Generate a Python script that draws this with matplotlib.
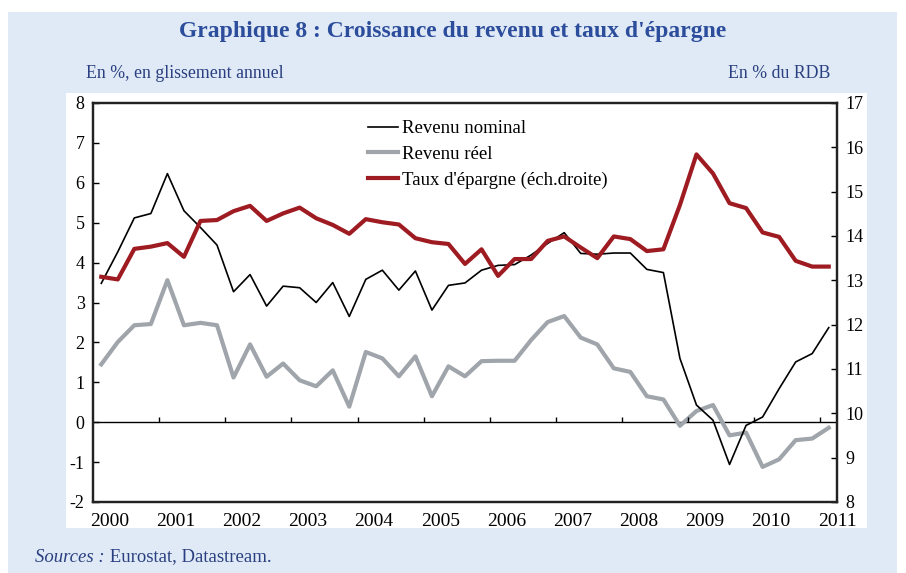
import matplotlib
matplotlib.use("Agg")
import matplotlib.pyplot as plt
from matplotlib.patches import Rectangle
import numpy as np

# quarterly data, 2000Q1 .. 2011Q1
years = [str(y) for y in range(2000, 2012)]

revenu_nominal = [3.48, 4.27, 5.12, 5.23, 6.23, 5.30, 4.88, 4.44,
                  3.27, 3.70, 2.91, 3.41, 3.37, 3.00, 3.50, 2.65,
                  3.58, 3.81, 3.31, 3.79, 2.81, 3.43, 3.49, 3.81,
                  3.93, 3.95, 4.19, 4.48, 4.75, 4.23, 4.21, 4.24,
                  4.24, 3.83, 3.75, 1.60, 0.43, 0.05, -1.06, -0.08,
                  0.13, 0.84, 1.51, 1.72, 2.37]

revenu_reel = [1.45, 2.01, 2.43, 2.46, 3.56, 2.43, 2.49, 2.43,
               1.12, 1.95, 1.14, 1.47, 1.05, 0.90, 1.30, 0.39,
               1.76, 1.60, 1.15, 1.65, 0.65, 1.40, 1.15, 1.53,
               1.54, 1.54, 2.06, 2.51, 2.66, 2.12, 1.95, 1.35,
               1.26, 0.65, 0.57, -0.09, 0.28, 0.43, -0.33, -0.26,
               -1.12, -0.93, -0.45, -0.41, -0.14]

taux_epargne = [13.08, 13.02, 13.71, 13.76, 13.84, 13.53, 14.34, 14.36,
                14.56, 14.68, 14.34, 14.51, 14.64, 14.40, 14.25, 14.05,
                14.38, 14.31, 14.26, 13.95, 13.86, 13.82, 13.37, 13.70,
                13.10, 13.48, 13.48, 13.89, 13.99, 13.74, 13.50, 13.99,
                13.93, 13.66, 13.70, 14.70, 15.84, 15.41, 14.74, 14.63,
                14.08, 13.98, 13.44, 13.31, 13.31]

plt.rcParams["font.family"] = ["Liberation Serif", "DejaVu Serif"]
plt.rcParams["axes.unicode_minus"] = False
blue_title = "#2c4c9c"
blue_text = "#2a3f80"
red = "#9e1b22"
grey = "#9fa5aa"

fig = plt.figure(figsize=(9.06, 5.73), dpi=100)
fig.patch.set_facecolor("white")
W, H = 906.0, 573.0
# light blue frame and white panel behind the chart
fig.add_artist(Rectangle((8 / W, 0), 889 / W, 561 / H, transform=fig.transFigure,
                         facecolor="#dfeaf6", edgecolor="none", zorder=-3))
fig.add_artist(Rectangle((66 / W, 45 / H), 801 / W, 435 / H, transform=fig.transFigure,
                         facecolor="white", edgecolor="none", zorder=-2))

ax = fig.add_axes([93 / W, 71 / H, 744 / W, 399 / H])
ax.set_facecolor("none")
ax2 = ax.twinx()

x = np.arange(len(revenu_nominal))
l1, = ax.plot(x, revenu_nominal, color="black", lw=1.2, label="Revenu nominal", zorder=3)
l2, = ax.plot(x, revenu_reel, color=grey, lw=3.0, label="Revenu réel", zorder=2)
l3, = ax2.plot(x, taux_epargne, color=red, lw=3.0, label="Taux d'épargne (éch.droite)")

ax.set_xlim(-0.5, len(x) - 0.5)
ax.set_ylim(-2, 8)
ax2.set_ylim(8, 17)
ax.set_yticks(range(-2, 9))
ax2.set_yticks(range(8, 18))

# zero line with year ticks
ax.axhline(0, color="black", lw=1.0, zorder=1)
ax.vlines(np.arange(3.5, len(x) - 1, 4), 0, 0.12, color="black", lw=1.0)

ax.set_xticks(np.arange(0.5, len(x) + 0.5, 4))
ax.set_xticklabels(years)
ax.tick_params(axis="x", length=0, pad=8, labelsize=14)
ax.tick_params(axis="y", direction="in", length=4, width=1, labelsize=13, pad=6)
ax2.tick_params(axis="y", direction="in", length=4, width=1, labelsize=13, pad=6)

for a in (ax, ax2):
    for s in a.spines.values():
        s.set_linewidth(1.6)
        s.set_color("#222222")

ax.legend(handles=[l1, l2, l3], loc="upper left", bbox_to_anchor=(0.355, 0.985),
          frameon=False, fontsize=13.5, handlelength=1.6, handletextpad=0.2,
          labelspacing=0.45, borderaxespad=0.2)

fig.text(0.5, 1 - 32 / H, "Graphique 8 : Croissance du revenu et taux d'épargne",
         ha="center", va="center", fontsize=17, fontweight="bold", color=blue_title)
fig.text(86 / W, 1 - 74 / H, "En %, en glissement annuel", ha="left", va="center",
         fontsize=12.8, color=blue_text)
fig.text(830 / W, 1 - 74 / H, "En % du RDB", ha="right", va="center",
         fontsize=12.8, color=blue_text)
src = fig.text(35 / W, 1 - 557 / H, "Sources :", ha="left", va="center",
               fontsize=13.5, style="italic", color=blue_text)
ax.annotate(" Eurostat, Datastream.", xy=(1, 0.5), xycoords=src,
            ha="left", va="center", fontsize=13.5, color=blue_text,
            annotation_clip=False)

fig.savefig("out.png", dpi=100)
